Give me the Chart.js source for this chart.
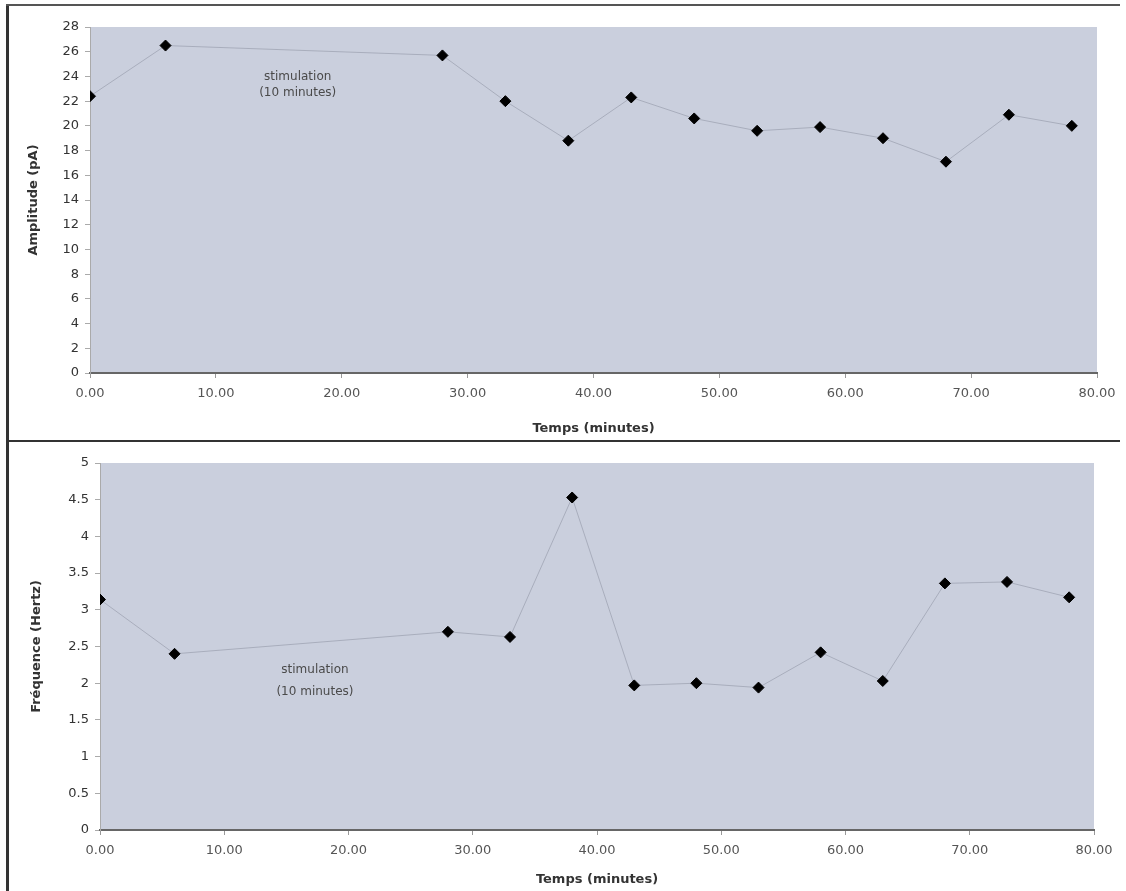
<!DOCTYPE html>
<html>
<head>
<meta charset="utf-8">
<script src="https://cdn.jsdelivr.net/npm/chart.js@4.4.1/dist/chart.umd.min.js"></script>
<style>
  body { margin: 0; background: #fff; width: 1126px; height: 891px; position: relative; overflow: hidden; }
  .box { position: absolute; left: 0; width: 1126px; }
  #boxTop { top: 0; height: 440px; }
  #boxBottom { top: 442px; height: 449px; }
  .frame { position: absolute; background: #333; }
</style>
</head>
<body>
<div class="box" id="boxTop"><canvas id="amplitudeChart"></canvas></div>
<div class="box" id="boxBottom"><canvas id="frequenceChart"></canvas></div>
<div class="frame" style="left:6px;top:4px;width:3px;height:887px;"></div>
<div class="frame" style="left:6px;top:4px;width:1114px;height:2px;background:#555;"></div>
<div class="frame" style="left:6px;top:440px;width:1114px;height:2px;"></div>
<script>
// time points (minutes)
var minutes = [0, 6, 28, 33, 38, 43, 48, 53, 58, 63, 68, 73, 78];
// amplitude (pA)
var amplitude = [22.4, 26.5, 25.7, 22.0, 18.8, 22.3, 20.6, 19.6, 19.9, 19.0, 17.1, 20.9, 20.0];
// frequence (Hertz)
var frequence = [3.14, 2.40, 2.70, 2.63, 4.53, 1.97, 2.00, 1.94, 2.42, 2.03, 3.36, 3.38, 3.17];

var xTickLabels = ['0.00', '10.00', '20.00', '30.00', '40.00', '50.00', '60.00', '70.00', '80.00'];
var noteLines = ['stimulation', '(10 minutes)'];

Chart.defaults.font.family = '"DejaVu Sans", sans-serif';
Chart.defaults.color = '#444';

function points(ys) {
    return minutes.map(function (m, i) { return { x: m, y: ys[i] }; });
}

// plot background + "stimulation" note placed in data coordinates
var plotBack = {
    id: 'plotBack',
    beforeDraw: function (chart) {
        var a = chart.chartArea, c = chart.ctx;
        c.save();
        c.fillStyle = 'rgb(202,207,221)';
        c.fillRect(a.left, a.top, a.right - a.left, a.bottom - a.top);
        c.restore();
    },
    afterDatasetsDraw: function (chart, args, opts) {
        var c = chart.ctx;
        var x = chart.scales.x.getPixelForValue(opts.x);
        c.save();
        c.fillStyle = '#4a4a4a';
        c.font = '12px "DejaVu Sans"';
        c.textAlign = 'center';
        c.textBaseline = 'middle';
        c.fillText(noteLines[0], x, chart.scales.y.getPixelForValue(opts.y1));
        c.fillText(noteLines[1], x, chart.scales.y.getPixelForValue(opts.y2));
        c.restore();
    }
};

function makeChart(id, ys, yMax, yStep, yTitle, yWidth, xHeight, pad, note) {
    return new Chart(document.getElementById(id), {
        type: 'scatter',
        data: {
            datasets: [{
                data: points(ys),
                showLine: true,
                borderColor: 'rgba(160,165,180,0.8)',
                borderWidth: 1,
                pointStyle: 'rectRot',
                pointRadius: 5.5,
                pointBackgroundColor: '#000',
                pointBorderColor: '#000',
                pointBorderWidth: 1
            }]
        },
        options: {
            responsive: true,
            maintainAspectRatio: false,
            animation: false,
            layout: { padding: pad },
            plugins: {
                legend: { display: false },
                tooltip: { enabled: false },
                plotBack: note
            },
            scales: {
                x: {
                    type: 'linear',
                    min: 0,
                    max: 80,
                    afterFit: function (s) { s.height = xHeight; },
                    ticks: {
                        stepSize: 10,
                        padding: 8,
                        font: { size: 13 },
                        color: '#555',
                        callback: function (v) { return xTickLabels[v / 10]; }
                    },
                    grid: { drawOnChartArea: false, tickLength: 5, color: '#999' },
                    border: { color: '#666', width: 2, dash: [2, 1] },
                    title: { display: true, text: 'Temps (minutes)', font: { size: 13, weight: 'bold' }, color: '#333', padding: { top: 6 } }
                },
                y: {
                    min: 0,
                    max: yMax,
                    afterFit: function (s) { s.width = yWidth; },
                    ticks: {
                        stepSize: yStep,
                        padding: 6,
                        font: { size: 13 },
                        color: '#333',
                        callback: function (v) { return String(v); }
                    },
                    grid: { drawOnChartArea: false, tickLength: 5, color: '#aaa' },
                    border: { color: '#aaa', width: 1, dash: [2, 1] },
                    title: { display: true, text: yTitle, font: { size: 13, weight: 'bold' }, color: '#333', padding: { bottom: 4 } }
                }
            }
        },
        plugins: [plotBack]
    });
}

makeChart('amplitudeChart', amplitude, 28, 2, 'Amplitude (pA)', 68, 67,
    { left: 22, right: 29, top: 27, bottom: 0 }, { x: 16.5, y1: 24, y2: 22.7 });
makeChart('frequenceChart', frequence, 5, 0.5, 'Fréquence (Hertz)', 75, 61,
    { left: 25, right: 32, top: 21, bottom: 0 }, { x: 17.3, y1: 2.18, y2: 1.88 });
</script>
</body>
</html>
